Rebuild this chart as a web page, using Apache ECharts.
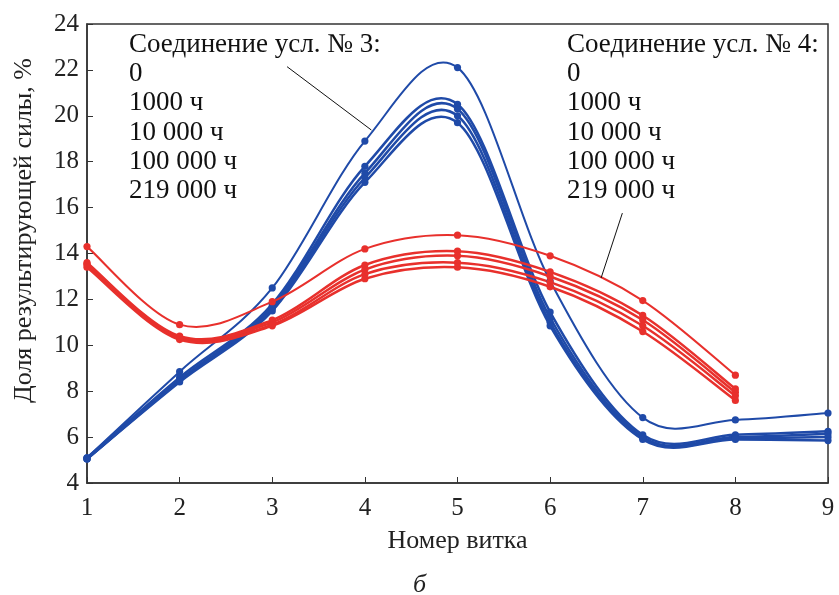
<!DOCTYPE html>
<html><head><meta charset="utf-8">
<script src="https://cdn.jsdelivr.net/npm/echarts@6/dist/echarts.min.js"></script>
<style>html,body{margin:0;padding:0;background:#fff}#c{width:839px;height:595px}</style>
</head><body><div id="c"></div>
<script>
const turnsBlue = [1,2,3,4,5,6,7,8,9];
const turnsRed = [1,2,3,4,5,6,7,8];
const blue0 = [5.1, 8.85, 12.5, 18.9, 22.1, 12.8, 6.85, 6.75, 7.05];
const blue1 = [5.1, 8.6, 11.8, 17.8, 20.5, 11.45, 6.1, 6.1, 6.25];
const blue2 = [5.05, 8.5, 11.7, 17.5, 20.3, 11.2, 6.0, 6.0, 6.15];
const blue3 = [5.05, 8.45, 11.6, 17.3, 20.0, 11.0, 5.95, 5.95, 6.0];
const blue4 = [5.05, 8.4, 11.5, 17.1, 19.7, 10.85, 5.9, 5.9, 5.85];
const red0 = [14.3, 10.9, 11.9, 14.2, 14.8, 13.9, 11.95, 8.7];
const red1 = [13.6, 10.4, 11.1, 13.5, 14.1, 13.2, 11.3, 8.1];
const red2 = [13.55, 10.35, 11.0, 13.3, 13.9, 13.0, 11.1, 7.95];
const red3 = [13.5, 10.3, 10.9, 13.1, 13.6, 12.75, 10.85, 7.8];
const red4 = [13.4, 10.25, 10.85, 12.9, 13.4, 12.55, 10.6, 7.6];
const labels3 = ['Соединение усл. № 3:', '0', '1000 ч', '10 000 ч', '100 000 ч', '219 000 ч'];
const labels4 = ['Соединение усл. № 4:', '0', '1000 ч', '10 000 ч', '100 000 ч', '219 000 ч'];
const hours = ['0', '1000 ч', '10 000 ч', '100 000 ч', '219 000 ч'];

const FONT = 'Liberation Serif';
const FS = 25, FN = 26, FA = 27;
const BLUE = '#1f4aa8', RED = '#e8302c';

// Smooth curve (Catmull-Rom through the data points, positions from the library's coord system)
function mk(name, xs, ys, color, w) {
  const data = xs.map((x, i) => [x, ys[i]]);
  return {
    name, type: 'custom', data,
    encode: { x: 0, y: 1 },
    renderItem: function (params, api) {
      const i = params.dataIndex, n = data.length;
      const P = k => api.coord(data[Math.max(0, Math.min(n - 1, k))]);
      const p0 = P(i);
      const children = [];
      if (i < n - 1) {
        const pm = P(i - 1), p1 = P(i + 1), p2 = P(i + 2);
        children.push({
          type: 'bezierCurve',
          shape: {
            x1: p0[0], y1: p0[1], x2: p1[0], y2: p1[1],
            cpx1: p0[0] + (p1[0] - pm[0]) / 6, cpy1: p0[1] + (p1[1] - pm[1]) / 6,
            cpx2: p1[0] - (p2[0] - p0[0]) / 6, cpy2: p1[1] - (p2[1] - p0[1]) / 6
          },
          style: { stroke: color, lineWidth: w, fill: null, lineCap: 'round' }
        });
      }
      children.push({ type: 'circle', shape: { cx: p0[0], cy: p0[1], r: 3.6 }, style: { fill: color }, z2: 10 });
      return { type: 'group', children };
    }
  };
}
const series = [
  mk('№3 ' + hours[0], turnsBlue, blue0, BLUE, 2),
  mk('№3 ' + hours[1], turnsBlue, blue1, BLUE, 2.5),
  mk('№3 ' + hours[2], turnsBlue, blue2, BLUE, 2.5),
  mk('№3 ' + hours[3], turnsBlue, blue3, BLUE, 2.5),
  mk('№3 ' + hours[4], turnsBlue, blue4, BLUE, 2.5),
  mk('№4 ' + hours[0], turnsRed, red0, RED, 2),
  mk('№4 ' + hours[1], turnsRed, red1, RED, 2.5),
  mk('№4 ' + hours[2], turnsRed, red2, RED, 2.5),
  mk('№4 ' + hours[3], turnsRed, red3, RED, 2.5),
  mk('№4 ' + hours[4], turnsRed, red4, RED, 2.5)
];
const chart = echarts.init(document.getElementById('c'), null, { renderer: 'canvas' });
const axisCommon = {
  axisLine: { show: true, lineStyle: { color: '#333', width: 1.5 } },
  axisTick: { show: true, inside: true, length: 6, lineStyle: { color: '#333' } },
  splitLine: { show: false },
  axisLabel: { fontFamily: FONT, fontSize: FS, color: '#222' },
  nameTextStyle: { fontFamily: FONT, fontSize: FN, color: '#222' }
};
chart.setOption({
  animation: false,
  backgroundColor: '#fff',
  grid: { left: 87, right: 11, top: 24, bottom: 112, show: true, borderColor: '#333', borderWidth: 1.5 },
  xAxis: Object.assign({}, axisCommon, { type: 'value', min: 1, max: 9, interval: 1,
    name: 'Номер витка', nameLocation: 'middle', nameGap: 45,
    axisLabel: Object.assign({}, axisCommon.axisLabel, { margin: 13 }) }),
  yAxis: Object.assign({}, axisCommon, { type: 'value', min: 4, max: 24, interval: 2,
    name: 'Доля результирующей силы, %', nameLocation: 'middle', nameGap: 50,
    nameTextStyle: Object.assign({}, axisCommon.nameTextStyle, { padding: [0, 0, 0, 46] }),
    axisLabel: Object.assign({}, axisCommon.axisLabel, { margin: 8 }) }),
  series
});
// leader lines in data coordinates
const leader3 = [[3.16, 22.14], [4.07, 19.38]];
const leader4 = [[6.78, 15.76], [6.55, 12.93]];
const p = pts => pts.map(q => chart.convertToPixel({ gridIndex: 0 }, q));
const a = p(leader3), b = p(leader4);
const graphics = [
  { type: 'line', shape: { x1: a[0][0], y1: a[0][1], x2: a[1][0], y2: a[1][1] }, style: { stroke: '#111', lineWidth: 1 }, z: 100 },
  { type: 'line', shape: { x1: b[0][0], y1: b[0][1], x2: b[1][0], y2: b[1][1] }, style: { stroke: '#111', lineWidth: 1 }, z: 100 },
  { type: 'text', left: 'center', top: 572, style: { text: 'б', font: 'italic 26px "Liberation Serif"', fill: '#222' } }
];
labels3.forEach((t, i) => graphics.push({ type: 'text', x: 129, y: 45 + i * 29.2, style: { text: t, font: FA + 'px "Liberation Serif"', fill: '#111', textVerticalAlign: 'middle' }, z: 100 }));
labels4.forEach((t, i) => graphics.push({ type: 'text', x: 567, y: 45 + i * 29.2, style: { text: t, font: FA + 'px "Liberation Serif"', fill: '#111', textVerticalAlign: 'middle' }, z: 100 }));
chart.setOption({ graphic: graphics });
</script>
</body></html>
